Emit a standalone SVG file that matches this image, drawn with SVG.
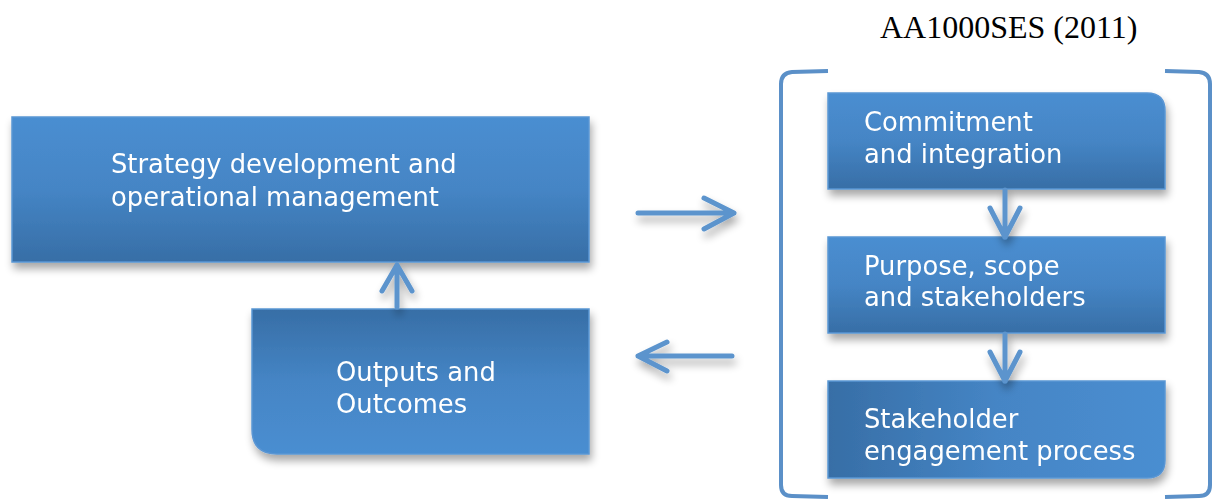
<svg xmlns="http://www.w3.org/2000/svg" width="1218" height="503" viewBox="0 0 1218 503">
<style>
.lbl{font-family:"DejaVu Sans",sans-serif;font-size:25.8px;fill:#ffffff}
.title{font-family:"Liberation Serif",serif;font-size:32px;fill:#000000}
.con{fill:none;stroke:#5b94cd;stroke-width:5;stroke-linecap:round;stroke-linejoin:round}
.br{fill:none;stroke:#5b90c8;stroke-width:4;stroke-linecap:butt;stroke-linejoin:round}
.edge{stroke:#5a96d4;stroke-width:1.5}
</style>
<defs>
<linearGradient id="gDown" x1="0" y1="0" x2="0" y2="1">
<stop offset="0" stop-color="#4a8ed1"/>
<stop offset="0.5" stop-color="#4585c5"/>
<stop offset="1" stop-color="#376ea6"/>
</linearGradient>
<linearGradient id="gUp" x1="0" y1="0" x2="0" y2="1">
<stop offset="0" stop-color="#376ea6"/>
<stop offset="0.5" stop-color="#4585c5"/>
<stop offset="1" stop-color="#4a8ed1"/>
</linearGradient>
<linearGradient id="gRight" x1="0" y1="0" x2="1" y2="0">
<stop offset="0" stop-color="#376ea6"/>
<stop offset="0.5" stop-color="#4585c5"/>
<stop offset="1" stop-color="#4a8ed1"/>
</linearGradient>
<filter id="sh" x="-10%" y="-10%" width="120%" height="140%">
<feGaussianBlur in="SourceAlpha" stdDeviation="4"/>
<feOffset dx="2" dy="6" result="b"/>
<feComponentTransfer><feFuncA type="linear" slope="0.35"/></feComponentTransfer>
<feMerge><feMergeNode/><feMergeNode in="SourceGraphic"/></feMerge>
</filter>
</defs>
<rect width="1218" height="503" fill="#ffffff"/>
<text class="title" x="880" y="38">AA1000SES (2011)</text>
<g id="bracket">
<path class="br" d="M828,71 L792,72 Q781,73 781,84 L781,485 Q781,496 792,496 L828,497"/>
<path class="br" d="M1165,71 L1199,72 Q1210,73 1210,84 L1210,485 Q1210,496 1199,496 L1165,497"/>
</g>
<g id="node-strategy" filter="url(#sh)">
<rect class="edge" x="12" y="117" width="577" height="145" fill="url(#gDown)"/>
<text class="lbl" x="111" y="173">Strategy development and</text>
<text class="lbl" x="111" y="206">operational management</text>
</g>
<g id="node-outputs" filter="url(#sh)">
<path class="edge" d="M252,309 L589,309 L589,454 L277,454 Q252,454 252,429 Z" fill="url(#gUp)"/>
<text class="lbl" x="336" y="381">Outputs and</text>
<text class="lbl" x="336" y="413">Outcomes</text>
</g>
<g id="node-commitment" filter="url(#sh)">
<path class="edge" d="M828,93 L1147,93 Q1165,93 1165,111 L1165,189 L828,189 Z" fill="url(#gDown)"/>
<text class="lbl" x="864" y="131">Commitment</text>
<text class="lbl" x="864" y="163">and integration</text>
</g>
<g id="node-purpose" filter="url(#sh)">
<rect class="edge" x="828" y="237" width="337" height="96" fill="url(#gDown)"/>
<text class="lbl" x="864" y="275">Purpose, scope</text>
<text class="lbl" x="864" y="306">and stakeholders</text>
</g>
<g id="node-engagement" filter="url(#sh)">
<path class="edge" d="M828,381 L1165,381 L1165,460 Q1165,478 1147,478 L828,478 Z" fill="url(#gRight)"/>
<text class="lbl" x="864" y="428">Stakeholder</text>
<text class="lbl" x="864" y="460">engagement process</text>
</g>
<g id="connectors" filter="url(#sh)">
<path class="con" d="M397,307 L397,265 M382,291 L397,265 L412,291"/>
<path class="con" d="M638,213 L734,213 M704,198 L734,213 L704,229"/>
<path class="con" d="M732,356 L638,356 M667,342 L638,356 L667,371"/>
<path class="con" d="M1005,190 L1005,237 M990,208 L1005,237 L1020,208"/>
<path class="con" d="M1005,334 L1005,381 M990,352 L1005,381 L1020,352"/>
</g>
</svg>
